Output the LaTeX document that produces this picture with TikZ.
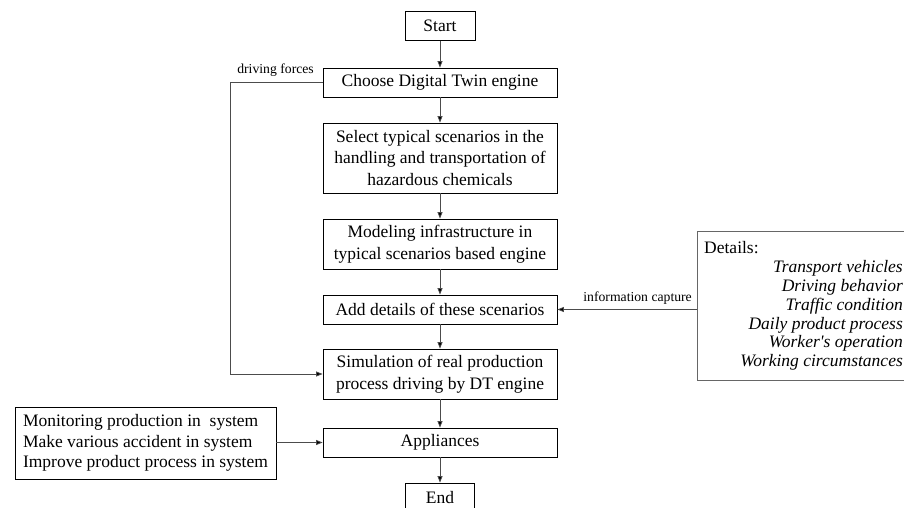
\documentclass[tikz,border=0pt]{standalone}
\usepackage{fontspec}
\setmainfont{Liberation Serif}
\usetikzlibrary{arrows.meta}
\tikzset{
  stepbox/.style={draw=black, line width=0.8pt, align=center, inner sep=2pt,
    font=\fontsize{17.5}{21.8}\selectfont},
  flow/.style={draw=black!70, line width=0.75pt,
    -{Triangle[length=6.5pt,width=5pt,fill=black]}},
  smalllabel/.style={font=\fontsize{13.7}{16}\selectfont, inner sep=0pt},
  detailline/.style={font=\fontsize{17.5}{20}\selectfont\itshape, inner sep=0pt, anchor=east}
}
\begin{document}
\begin{tikzpicture}[x=1pt,y=-1pt]
\useasboundingbox (0,0) rectangle (904,508);
\clip (0,0) rectangle (904,508);
\fill[white] (0,0) rectangle (904,508);

% main flow
\node[stepbox, minimum width=70pt, minimum height=28.5pt] (start) at (440,26) {Start};
\node[stepbox, minimum width=234pt, minimum height=29pt] (choose) at (440,82.5) {Choose Digital Twin engine};
\node[stepbox, minimum width=234pt, minimum height=70pt] (select) at (440,158)
  {Select typical scenarios in the\\handling and transportation of\\hazardous chemicals};
\node[stepbox, minimum width=234pt, minimum height=50pt] (model) at (440,244)
  {Modeling infrastructure in\\typical scenarios based engine};
\node[stepbox, minimum width=234pt, minimum height=29pt] (add) at (440,309.5) {Add details of these scenarios};
\node[stepbox, minimum width=234pt, minimum height=50pt] (sim) at (440,374)
  {Simulation of real production\\process driving by DT engine};
\node[stepbox, minimum width=234pt, minimum height=29pt] (app) at (440,442.5) {Appliances};
\node[stepbox, minimum width=69pt, minimum height=29pt] (end) at (440,497.5) {End};

% side boxes
\node[stepbox, align=left, minimum width=261pt, minimum height=72pt, inner sep=6pt,
  font=\fontsize{17.5}{20.3}\selectfont] (uses) at (145.5,443)
  {Monitoring production in\ \ system\\Make various accident in system\\Improve product process in system};

\node[draw=black!60, line width=1.3pt, minimum width=240pt, minimum height=149pt,
  anchor=north west, inner sep=0pt] (details) at (697,231) {};
\node[font=\fontsize{17.5}{20}\selectfont, inner sep=0pt, anchor=west] (dtitle) at (704,248) {Details:};
\node[detailline] (d1) at (903,268) {Transport vehicles};
\node[detailline] (d2) at (903,287.5) {Driving behavior};
\node[detailline] (d3) at (903,306.5) {Traffic condition};
\node[detailline] (d4) at (903,325) {Daily product process};
\node[detailline] (d5) at (903,343.5) {Worker\textquotesingle s operation};
\node[detailline] (d6) at (903,362) {Working circumstances};

% connectors
\draw[flow] (start) -- (choose);
\draw[flow] (choose) -- (select);
\draw[flow] (select) -- (model);
\draw[flow] (model) -- (add);
\draw[flow] (add) -- (sim);
\draw[flow] (sim) -- (app);
\draw[flow] (app) -- (end);
\draw[flow] (app.west -| uses.east) -- (app.west);
\draw[flow] (details.west |- add.east) -- (add.east);

\coordinate (loopx) at (230,0);
\draw[flow] (choose.west) -- (choose.west -| loopx) -- (sim.west -| loopx) -- (sim.west);

% connector labels
\node[smalllabel, anchor=east] (dflabel) at (314,70) {driving forces};
\node[smalllabel, anchor=east] (iclabel) at (692,298) {information capture};
\end{tikzpicture}
\end{document}
